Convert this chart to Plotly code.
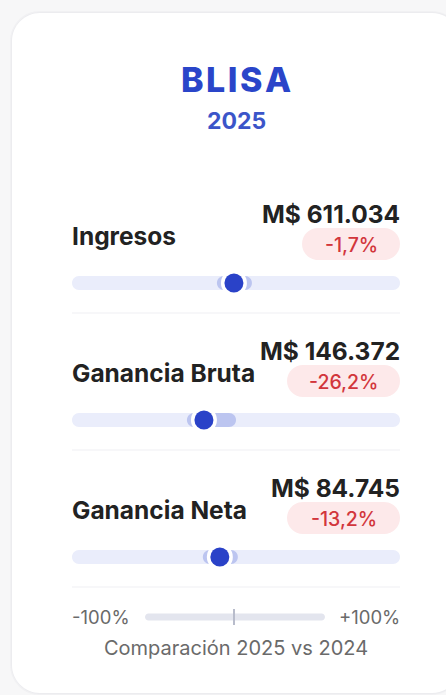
import plotly.graph_objects as go

# ---- data ----
company = "BLISA"
year = "2025"
metrics = ["Ingresos", "Ganancia Bruta", "Ganancia Neta"]
values_text = ["M$ 611.034", "M$ 146.372", "M$ 84.745"]
changes_pct = [-1.7, -26.2, -13.2]
change_labels = ["-1,7%", "-26,2%", "-13,2%"]
scale_labels = ["-100%", "+100%"]
footer = "Comparación 2025 vs 2024"

# ---- layout constants (pixels) ----
W, H = 446, 695
TRACK_L, TRACK_R = 72, 400
ZERO_PX = 236
VMIN, VMAX = -134, 134          # value range covered by the track
PPU = (TRACK_R - TRACK_L) / (VMAX - VMIN)
XR = [(0 - ZERO_PX) / PPU, (W - ZERO_PX) / PPU]

ROW0 = 283
ROW_STEP = 137
FONT = "Inter, Roboto, Noto Sans, sans-serif"
K = 0.5523


def rrect(x0, x1, y0, y1, r):
    return (f"M{x0+r},{y0} L{x1-r},{y0} C{x1-r+K*r},{y0} {x1},{y0+r-K*r} {x1},{y0+r} "
            f"L{x1},{y1-r} C{x1},{y1-r+K*r} {x1-r+K*r},{y1} {x1-r},{y1} "
            f"L{x0+r},{y1} C{x0+r-K*r},{y1} {x0},{y1-r+K*r} {x0},{y1-r} "
            f"L{x0},{y0+r} C{x0},{y0+r-K*r} {x0+r-K*r},{y0} {x0+r},{y0} Z")


def pshape(path, fill, xanchor=0, xref="paper", layer="below"):
    return dict(type="path", path=path, xref=xref, yref="y", xsizemode="pixel",
                xanchor=xanchor, fillcolor=fill, layer=layer, line=dict(width=0))


shapes = []
# card shadow + card
for i, c in enumerate(["#f1f1f3", "#ececef"]):
    shapes.append(pshape(rrect(12 - 2 + i, 462, 13 - 2 + i, 695 - i, 30), c))
shapes.append(pshape(rrect(12, 460, 13, 693, 28), "white"))

annotations = []
annotations.append(dict(text="B\u200aL\u200aI\u200aS\u200aA", x=236 / W, y=79, xref="paper", yref="y",
                        showarrow=False, xanchor="center", yanchor="middle",
                        font=dict(family=FONT, size=34, color="#2a45c9", weight=800)))
annotations.append(dict(text=year, x=236 / W, y=121, xref="paper", yref="y",
                        showarrow=False, xanchor="center", yanchor="middle",
                        font=dict(family=FONT, size=23, color="#3b55c9", weight=700)))

dot_x, dot_y = [], []
for i, (m, vt, ch, cl) in enumerate(zip(metrics, values_text, changes_pct, change_labels)):
    ty = ROW0 + i * ROW_STEP
    # track
    shapes.append(pshape(rrect(TRACK_L, TRACK_R, ty - 7, ty + 7, 7), "#eaedfb"))
    # highlight band from value toward zero
    right = max(18, -ch * PPU)
    shapes.append(pshape(rrect(-17, right, ty - 7, ty + 7, 7), "#bcc5f0",
                         xanchor=ch, xref="x"))
    dot_x.append(ch)
    dot_y.append(ty)
    # separator
    shapes.append(dict(type="line", xref="paper", yref="y", x0=TRACK_L / W, x1=TRACK_R / W,
                       y0=ty + 30, y1=ty + 30, line=dict(color="#f0f0f3", width=1.2), layer="below"))
    # pill
    pw = 23 + 15 * len(cl)
    py = ty - 39
    shapes.append(pshape(rrect(TRACK_R - pw, TRACK_R, py - 16, py + 16, 16), "#fde9ea"))
    annotations.append(dict(text=cl, x=(TRACK_R - pw / 2) / W, y=py + 1, xref="paper", yref="y",
                            showarrow=False, xanchor="center", yanchor="middle",
                            font=dict(family=FONT, size=19.5, color="#d2363c", weight=500)))
    # metric label
    annotations.append(dict(text=m, x=TRACK_L / W, y=ty - 47, xref="paper", yref="y",
                            showarrow=False, xanchor="left", yanchor="middle", xshift=-2,
                            font=dict(family=FONT, size=24.5, color="#222222", weight=700)))
    # value
    annotations.append(dict(text=vt, x=TRACK_R / W, y=ty - 69, xref="paper", yref="y",
                            showarrow=False, xanchor="right", yanchor="middle", xshift=2,
                            font=dict(family=FONT, size=24.5, color="#222222", weight=700)))

# footer scale
fy = 617
shapes.append(pshape(rrect(145, 325, fy - 3.5, fy + 3.5, 3.5), "#e3e5ee"))
shapes.append(dict(type="line", xref="paper", yref="y", x0=234 / W, x1=234 / W,
                   y0=fy - 8, y1=fy + 8, line=dict(color="#b8bccb", width=2)))
annotations.append(dict(text=scale_labels[0], x=TRACK_L / W, y=fy, xref="paper", yref="y",
                        showarrow=False, xanchor="left", yanchor="middle", xshift=-2,
                        font=dict(family=FONT, size=18.5, color="#6a6a6a")))
annotations.append(dict(text=scale_labels[1], x=TRACK_R / W, y=fy, xref="paper", yref="y",
                        showarrow=False, xanchor="right", yanchor="middle", xshift=2,
                        font=dict(family=FONT, size=18.5, color="#6a6a6a")))
annotations.append(dict(text=footer, x=236 / W, y=648, xref="paper", yref="y",
                        showarrow=False, xanchor="center", yanchor="middle",
                        font=dict(family=FONT, size=20, color="#6a6a6a")))

fig = go.Figure()
fig.add_trace(go.Scatter(x=dot_x, y=dot_y, mode="markers", hoverinfo="skip",
                         marker=dict(size=26, color="white", line=dict(width=0))))
fig.add_trace(go.Scatter(x=dot_x, y=dot_y, mode="markers",
                         marker=dict(size=19, color="#2a42c8", line=dict(width=0))))

fig.update_layout(
    width=W, height=H, margin=dict(l=0, r=0, t=0, b=0),
    paper_bgcolor="#f7f7f8", plot_bgcolor="rgba(0,0,0,0)",
    showlegend=False, shapes=shapes, annotations=annotations,
    xaxis=dict(range=XR, visible=False, fixedrange=True),
    yaxis=dict(range=[H, 0], visible=False, fixedrange=True),
)
fig.write_html("out.html", config={"displayModeBar": False},
               post_script="document.body.style.margin='0';document.body.style.overflow='hidden';")
